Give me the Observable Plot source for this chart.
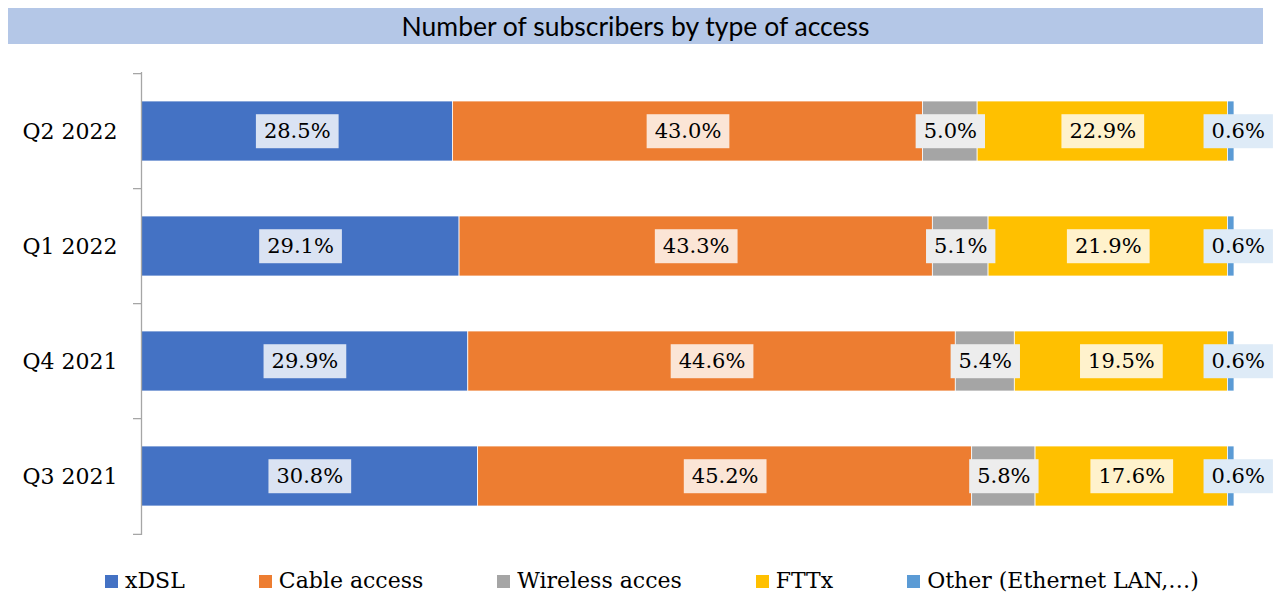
<!DOCTYPE html>
<html><head><meta charset="utf-8">
<script src="https://cdn.jsdelivr.net/npm/d3@7"></script>
<script src="https://cdn.jsdelivr.net/npm/@observablehq/plot@0.6"></script>
<style>
html,body{margin:0;padding:0;background:#fff;}
body{width:1278px;height:597px;overflow:hidden;position:relative;}
#title{position:absolute;left:8px;top:8px;width:1255px;height:36px;background:#b4c7e7;font-family:Lato,"Open Sans",sans-serif;font-size:26.5px;color:#000;text-align:center;line-height:36px;}
#chart{position:absolute;left:0;top:44px;}
#legend{position:absolute;left:0;top:568px;width:1278px;box-sizing:border-box;padding-left:26px;display:flex;justify-content:center;gap:74px;font-family:"DejaVu Serif",serif;font-size:22px;line-height:26px;color:#000;}
.item{display:flex;align-items:center;white-space:nowrap;}
.sw{width:13px;height:13px;margin-right:7px;display:inline-block;}
</style>
</head><body>
<div id="title">Number of subscribers by type of access</div>
<div id="chart"></div>
<div id="legend"></div>
<script>
const quarters = ["Q2 2022", "Q1 2022", "Q4 2021", "Q3 2021"];
const accessTypes = ["xDSL", "Cable access", "Wireless acces", "FTTx", "Other (Ethernet LAN,…)"];
const xdsl = [28.5, 29.1, 29.9, 30.8];
const cable = [43.0, 43.3, 44.6, 45.2];
const wireless = [5.0, 5.1, 5.4, 5.8];
const fttx = [22.9, 21.9, 19.5, 17.6];
const other = [0.6, 0.6, 0.6, 0.6];
const colors = ["#4472c4", "#ed7d31", "#a5a5a5", "#ffc000", "#5b9bd5"];
const labelFills = ["#dae3f3", "#fbe5d6", "#ededed", "#fff2cc", "#deebf7"];

const series = [xdsl, cable, wireless, fttx, other];
const rows = [];
quarters.forEach((q, i) => {
  accessTypes.forEach((t, j) => {
    rows.push({quarter: q, type: t, value: series[j][i], bg: labelFills[j], last: j === accessTypes.length - 1});
  });
});

const W = 1278, H = 516, mt = 28, mb = 25, ml = 141, mr = 44;
const step = (H - mt - mb) / quarters.length;
const tickLen = 8 / ((W - ml - mr) / 100);
const labelText = d => d.value.toFixed(1) + "%";

const chart = Plot.plot({
  width: W, height: H,
  marginTop: mt, marginBottom: mb, marginLeft: ml, marginRight: mr,
  style: {fontFamily: "'DejaVu Serif', serif", fontSize: "22px", color: "#000", background: "white"},
  x: {domain: [0, 100], axis: null},
  y: {domain: quarters, paddingInner: 0.48, paddingOuter: 0.24, label: null, tickSize: 0, tickPadding: 24},
  color: {domain: accessTypes, range: colors},
  marks: [
    Plot.barX(rows, Plot.stackX({x: "value", y: "quarter", fill: "type", order: null, stroke: "white", strokeWidth: 0.75})),
    Plot.ruleX([0], {stroke: "#a6a6a6", strokeWidth: 1.3}),
    Plot.ruleY(quarters, {y: d => d, x1: -tickLen, x2: 0, dy: -step / 2, stroke: "#a6a6a6", strokeWidth: 1.3}),
    Plot.ruleY([quarters[quarters.length - 1]], {y: d => d, x1: -tickLen, x2: 0, dy: step / 2, stroke: "#a6a6a6", strokeWidth: 1.3}),
    Plot.text(rows, Plot.stackX({x: "value", y: "quarter", z: "type", order: null, text: labelText, fill: "#000", fontSize: 21}))
  ]
});
document.getElementById("chart").appendChild(chart);

// label boxes behind data labels (the tiny "Other" label is nudged right, as in the original)
d3.select(chart).selectAll('g[aria-label="text"] text').each(function(_, k) {
  if (rows[k].last) this.setAttribute("dx", 7);
  const b = this.getBBox();
  const tr = this.getAttribute("transform");
  const r = document.createElementNS("http://www.w3.org/2000/svg", "rect");
  r.setAttribute("x", b.x - 8);
  r.setAttribute("y", b.y - 5);
  r.setAttribute("width", b.width + 16);
  r.setAttribute("height", b.height + 10);
  r.setAttribute("fill", rows[k].bg);
  if (tr) r.setAttribute("transform", tr);
  this.parentNode.insertBefore(r, this);
});

// legend
const lg = d3.select("#legend");
accessTypes.forEach((t, j) => {
  const it = lg.append("div").attr("class", "item");
  it.append("span").attr("class", "sw").style("background", colors[j]);
  it.append("span").text(t);
});
</script>
</body></html>
